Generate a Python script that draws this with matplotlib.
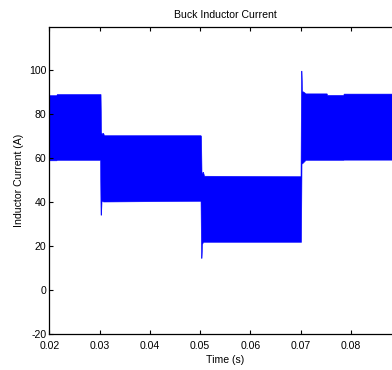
import matplotlib
matplotlib.use("Agg")
import matplotlib.pyplot as plt

# Envelope of the (dense) ripple waveform
env_t = [0.0200, 0.0214, 0.0215, 0.0301, 0.0302, 0.0303, 0.0304, 0.0306, 0.0307, 0.0309,
         0.0500, 0.0501, 0.0502, 0.0503, 0.0504, 0.0505, 0.0506, 0.0508,
         0.0700, 0.0701, 0.0702, 0.0703, 0.0707, 0.0710, 0.0752, 0.0753, 0.0785, 0.0786, 0.0900]
env_hi = [88.6, 88.6, 89.1, 89.1, 89.1, 72.0, 71.0, 71.5, 71.5, 70.4,
          70.4, 70.4, 70.0, 53.0, 53.0, 53.8, 53.8, 52.0,
          51.8, 99.7, 99.7, 90.5, 90.0, 89.4, 89.4, 88.7, 88.7, 89.3, 89.3]
env_lo = [59.0, 59.0, 59.2, 59.2, 34.3, 34.3, 40.5, 40.5, 40.3, 40.3,
          40.6, 40.6, 14.7, 14.7, 21.0, 21.5, 22.0, 22.0,
          22.0, 22.0, 57.6, 57.6, 58.5, 59.2, 59.2, 59.2, 59.2, 59.3, 59.3]

x_ticks = [0.02, 0.03, 0.04, 0.05, 0.06, 0.07, 0.08]
x_labels = ["0.02", "0.03", "0.04", "0.05", "0.06", "0.07", "0.08"]
y_ticks = [-20, 0, 20, 40, 60, 80, 100]
y_labels = ["-20", "0", "20", "40", "60", "80", "100"]

plt.rcParams['font.family'] = ['Liberation Sans', 'DejaVu Sans']
fs = 7.6

fig = plt.figure(figsize=(3.92, 3.70), dpi=100)
ax = fig.add_axes([49.3 / 392, 0.0965, (401.0 - 49.3) / 392, 0.9262 - 0.0965])
ax.fill_between(env_t, env_lo, env_hi, color=(0, 0, 1), lw=0.4, edgecolor=(0, 0, 1))
ax.set_xlim(0.02, 0.09)
ax.set_ylim(-20, 119.4)
ax.set_xticks(x_ticks)
ax.set_xticklabels(x_labels)
ax.set_yticks(y_ticks)
ax.set_yticklabels(y_labels)
ax.tick_params(direction='in', top=True, right=True, length=3, width=0.8,
               labelsize=fs, colors='black')
ax.tick_params(axis='x', pad=4.5)
ax.tick_params(axis='y', pad=2)
for s in ax.spines.values():
    s.set_linewidth(0.9)
ax.set_title("Buck Inductor Current", fontsize=fs, pad=7)
ax.set_xlabel("Time (s)", fontsize=fs, labelpad=3.5)
ax.set_ylabel("Inductor Current (A)", fontsize=fs, labelpad=4)

fig.savefig("out.png", dpi=100)
